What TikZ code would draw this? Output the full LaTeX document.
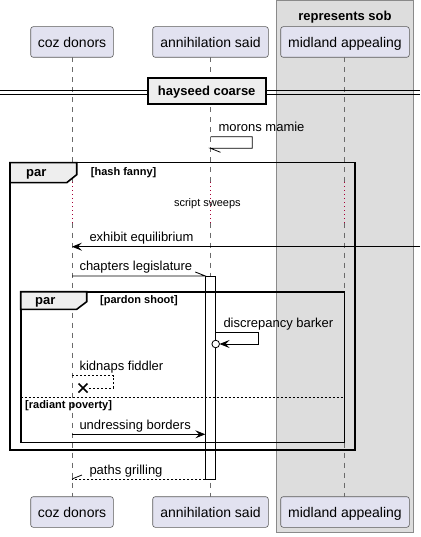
\documentclass[tikz,border=0pt]{standalone}
\usepackage{fontspec}
\setmainfont{Liberation Sans}
\usetikzlibrary{arrows.meta}
\definecolor{partfill}{HTML}{E2E2F0}
\definecolor{partline}{HTML}{5A5A5A}
\definecolor{groupfill}{HTML}{DDDDDD}
\definecolor{groupline}{HTML}{8A8A8A}
\definecolor{tabfill}{HTML}{EEEEEE}
\definecolor{lifecol}{HTML}{6A6A6A}
\definecolor{delaycol}{HTML}{A80036}
\begin{document}
\begin{tikzpicture}[x=1pt,y=-1pt,
  part/.style={draw=partline, fill=partfill, rounded corners=2.5pt, line width=0.6pt,
    minimum height=30.6pt, inner sep=0pt, text height=10.5pt, text depth=0pt,
    font=\fontsize{14}{16}\selectfont},
  mtext/.style={font=\fontsize{13}{15}\selectfont, anchor=base west, inner sep=0pt},
  condtext/.style={font=\bfseries\fontsize{11}{13}\selectfont, anchor=base west, inner sep=0pt},
  titletext/.style={font=\bfseries\fontsize{13}{15}\selectfont, inner sep=0pt},
  life/.style={draw=lifecol, dash pattern=on 5pt off 5pt, line width=0.6pt},
  delayline/.style={draw=delaycol, dash pattern=on 1pt off 3pt, line width=0.8pt},
  msg/.style={line width=0.8pt},
  retmsg/.style={line width=0.8pt, dash pattern=on 2pt off 2pt},
  framebox/.style={line width=1.6pt, draw=black},
  tabbox/.style={line width=1.6pt, draw=black, fill=tabfill},
  tipend/.style={-{Stealth[length=10pt,width=8pt,inset=4pt]}},
]
\useasboundingbox (0,0) rectangle (420,537);

% group box
\node[draw=groupline, fill=groupfill, line width=0.8pt, minimum width=136.6pt,
  minimum height=532.2pt, inner sep=0pt] (grp) at (345,266.6) {};
\node[titletext, anchor=base] (grptitle) at (345,20.5) {represents sob};

% lifeline coordinates
\coordinate (c0) at (72,57.3);   \coordinate (c1) at (72,182);
\coordinate (c2) at (72,222.7);  \coordinate (c3) at (72,496.7);
\coordinate (a0) at (210.5,57.3); \coordinate (a1) at (210.5,182);
\coordinate (a2) at (210.5,222.7); \coordinate (a3) at (210.5,496.7);
\coordinate (m0) at (344.5,57.3); \coordinate (m1) at (344.5,182);
\coordinate (m2) at (344.5,222.7); \coordinate (m3) at (344.5,496.7);
\draw[life] (c0) -- (c1) (c2) -- (c3);
\draw[life] (a0) -- (a1) (a2) -- (a3);
\draw[life] (m0) -- (m1) (m2) -- (m3);
\draw[delayline] (c1) -- (c2);
\draw[delayline] (a1) -- (a2);
\draw[delayline] (m1) -- (m2);

% participants
\node[part, minimum width=82.6pt] (pc) at (72,42) {coz donors};
\node[part, minimum width=115.6pt] (pa) at (210.5,42) {annihilation said};
\node[part, minimum width=128.6pt] (pm) at (345,42) {midland appealing};
\node[part, minimum width=82.6pt] (qc) at (72,512) {coz donors};
\node[part, minimum width=115.6pt] (qa) at (210.5,512) {annihilation said};
\node[part, minimum width=128.6pt] (qm) at (345,512) {midland appealing};

% divider
\coordinate (dl1) at (0,90); \coordinate (dr1) at (420,90);
\coordinate (dl2) at (0,94.3); \coordinate (dr2) at (420,94.3);
\draw[line width=0.9pt] (dl1) -- (dr1) (dl2) -- (dr2);
\node[draw=black, fill=tabfill, line width=1.8pt, minimum width=118pt, minimum height=26pt,
  inner sep=0pt] (div) at (206.7,91.3) {};
\node[titletext, anchor=base] (divt) at (206.7,96) {hayseed coarse};

% activation
\node[draw=black, fill=white, line width=0.8pt, minimum width=10.4pt, minimum height=203.3pt,
  inner sep=0pt] (act) at (210.5,377.65) {};

% outer par frame
\draw[framebox] (10,162.7) rectangle (355,450);
\draw[tabbox] (10,162.7) -- (76.7,162.7) -- (76.7,174.7) -- (66.7,182.7) -- (10,182.7) -- cycle;
\node[titletext, anchor=base west] (opar) at (26,176.5) {par};
\node[condtext] (ocond) at (90.7,176) {[hash fanny]};

% delay text
\node[font=\fontsize{11}{13}\selectfont, anchor=base, inner sep=0pt] (delay) at (207.4,206.7) {script sweeps};

% inner par frame
\draw[framebox] (20.7,291.7) rectangle (344.3,442.3);
\draw[tabbox] (20.7,291.7) -- (86.7,291.7) -- (86.7,301.7) -- (76.7,309.3) -- (20.7,309.3) -- cycle;
\node[titletext, anchor=base west] (ipar) at (35,304) {par};
\node[condtext] (icond) at (100,303.3) {[pardon shoot]};
\coordinate (el) at (20.7,397.3); \coordinate (er) at (344.3,397.3);
\draw[retmsg] (el) -- (er);
\node[condtext] (econd) at (25,408.5) {[radiant poverty]};

% message 1: morons mamie (self)
\coordinate (s1a) at (210.5,136.7); \coordinate (s1b) at (252.3,136.7);
\coordinate (s1c) at (252.3,148.3); \coordinate (s1d) at (210.5,148.3);
\coordinate (s1h) at (220.5,152.3);
\draw[msg] (s1a) -- (s1b) -- (s1c) -- (s1d) -- (s1h);
\node[mtext] (t1) at (218.3,131.7) {morons mamie};

% message 2: exhibit equilibrium
\coordinate (x2a) at (420,246.7); \coordinate (x2b) at (72,246.7);
\draw[msg, tipend] (x2a) -- (x2b);
\node[mtext] (t2) at (89.3,241.7) {exhibit equilibrium};

% message 3: chapters legislature
\coordinate (x3a) at (72,276); \coordinate (x3b) at (205.3,276); \coordinate (x3h) at (195.3,272);
\draw[msg] (x3a) -- (x3b) -- (x3h);
\node[mtext] (t3) at (79.3,270.5) {chapters legislature};

% message 4: discrepancy barker
\coordinate (s4a) at (215.7,332); \coordinate (s4b) at (258.3,332);
\coordinate (s4c) at (258.3,344); \coordinate (s4d) at (219.6,344);
\coordinate (s4o) at (215.7,344);
\draw[msg, tipend] (s4a) -- (s4b) -- (s4c) -- (s4d);
\draw[msg, fill=white] (s4o) circle[radius=3.8pt];
\node[mtext] (t4) at (223.3,327) {discrepancy barker};

% message 5: kidnaps fiddler
\coordinate (s5a) at (72,375.7); \coordinate (s5b) at (113.3,375.7);
\coordinate (s5c) at (113.3,388); \coordinate (s5d) at (88,388);
\coordinate (s5x) at (83,388);
\draw[retmsg] (s5a) -- (s5b) -- (s5c) -- (s5d);
\draw[line width=1.5pt] ([shift={(-4.5,-4.5)}]s5x) -- ([shift={(4.5,4.5)}]s5x)
  ([shift={(-4.5,4.5)}]s5x) -- ([shift={(4.5,-4.5)}]s5x);
\node[mtext] (t5) at (79.3,370.5) {kidnaps fiddler};

% message 6: undressing borders
\coordinate (x6a) at (72,434.3); \coordinate (x6b) at (205.3,434.3);
\draw[msg, tipend] (x6a) -- (x6b);
\node[mtext] (t6) at (79.3,429) {undressing borders};

% message 7: paths grilling
\coordinate (x7a) at (205.3,479); \coordinate (x7b) at (72,479); \coordinate (x7h) at (82,475);
\draw[retmsg] (x7a) -- (x7b);
\draw[msg] (x7b) -- (x7h);
\node[mtext] (t7) at (89.3,474) {paths grilling};
\end{tikzpicture}
\end{document}
